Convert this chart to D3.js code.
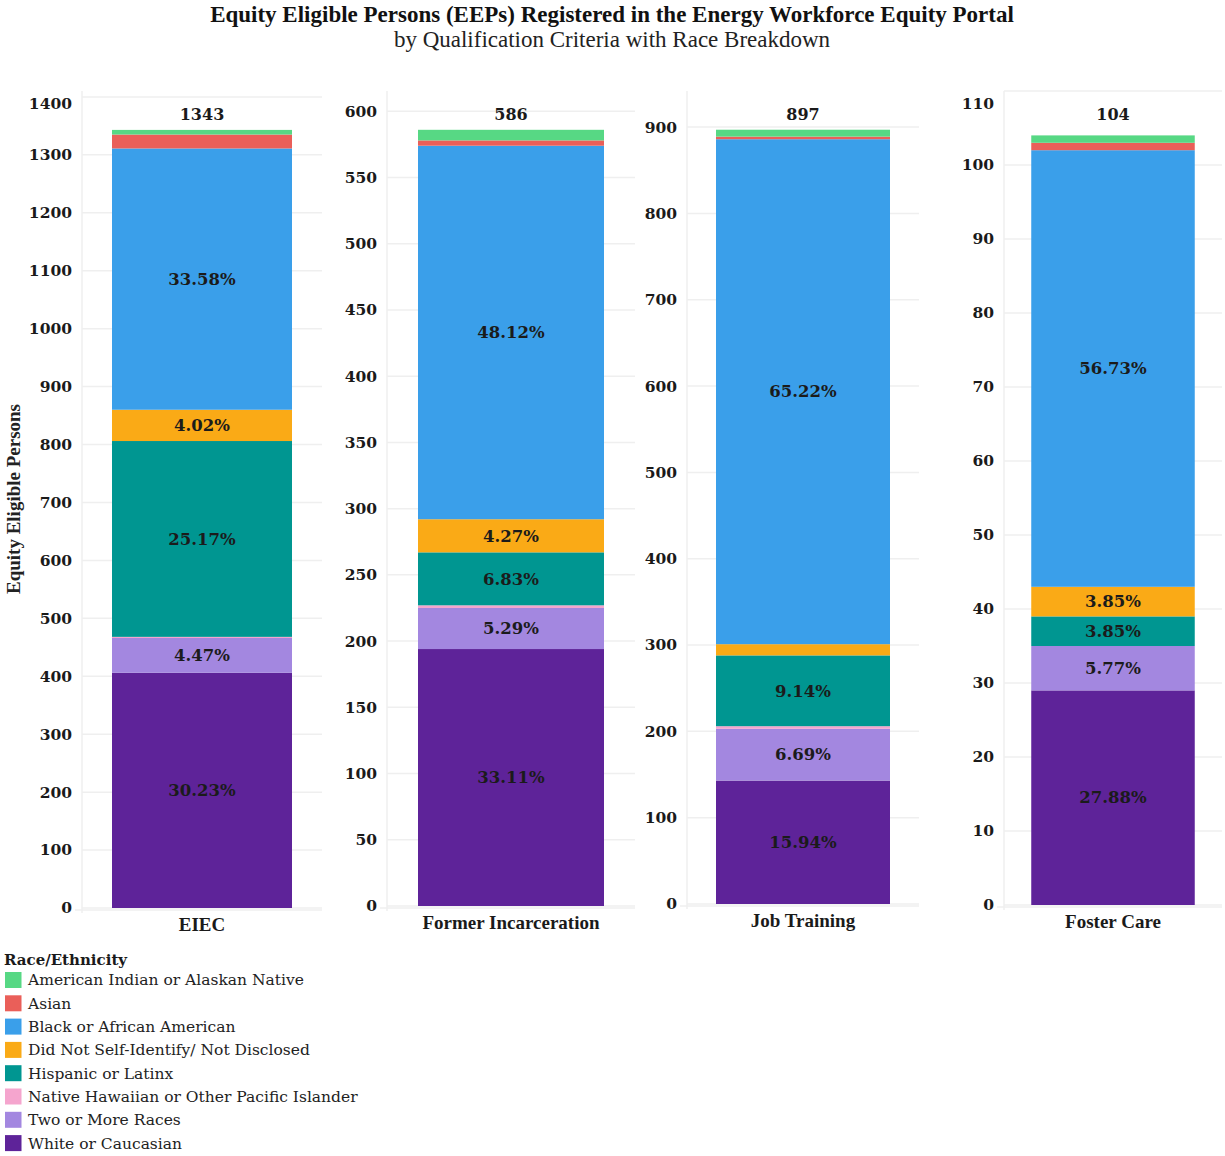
<!DOCTYPE html>
<html>
<head>
<meta charset="utf-8">
<script src="https://cdn.jsdelivr.net/npm/d3@7"></script>
<style>
  html, body { margin: 0; padding: 0; background: #fff; }
  svg { display: block; }
</style>
</head>
<body>
<svg id="chart" width="1225" height="1156"></svg>
<script>
// ---------- data ----------
const categories = ["EIEC", "Former Incarceration", "Job Training", "Foster Care"];
const races = [
  "American Indian or Alaskan Native",
  "Asian",
  "Black or African American",
  "Did Not Self-Identify/ Not Disclosed",
  "Hispanic or Latinx",
  "Native Hawaiian or Other Pacific Islander",
  "Two or More Races",
  "White or Caucasian"
];
const americanIndian = [8, 8, 8, 1];
const asian          = [24, 4, 3, 1];
const black          = [451, 282, 585, 59];
const notDisclosed   = [54, 25, 13, 4];
const hispanic       = [338, 40, 82, 4];
const nativeHawaiian = [2, 2, 3, 0];
const twoOrMore      = [60, 31, 60, 6];
const white          = [406, 194, 143, 29];
const tickSteps      = [100, 50, 100, 10];

const colors = ["#57D884", "#EA5F59", "#3A9FEA", "#FAAA16", "#009691", "#F5A5CE", "#A387E0", "#5E2399"];
const seriesByRace = [americanIndian, asian, black, notDisclosed, hispanic, nativeHawaiian, twoOrMore, white];

// ---------- layout ----------
const panelLeft   = [82, 387, 687, 1004];
const panelRight  = [322, 635, 919, 1222];
const panelBottom = [908, 906, 904, 905];
const panelTop = 91;
const numFont = "'DejaVu Serif', serif";
const capFont = "'Liberation Serif', 'Times New Roman', serif";

const svg = d3.select("#chart");

// titles
svg.append("text").attr("x", 612).attr("y", 22).attr("text-anchor", "middle")
  .style("font-family", capFont).style("font-weight", "bold").style("font-size", "23px")
  .attr("fill", "#111")
  .text("Equity Eligible Persons (EEPs) Registered in the Energy Workforce Equity Portal");
svg.append("text").attr("x", 612).attr("y", 47).attr("text-anchor", "middle")
  .style("font-family", capFont).style("font-size", "23px").attr("fill", "#222")
  .text("by Qualification Criteria with Race Breakdown");

// y axis title
svg.append("text")
  .attr("transform", "translate(20,499) rotate(-90)")
  .attr("text-anchor", "middle")
  .style("font-family", capFont).style("font-weight", "bold").style("font-size", "19px")
  .attr("fill", "#222")
  .text("Equity Eligible Persons");

// stacking order bottom -> top is reverse of legend order
const stackOrder = races.map((r, i) => i).reverse();

categories.forEach((cat, ci) => {
  const total = d3.sum(seriesByRace, s => s[ci]);
  const yMax = ci === 3 ? 110 : total * 1.05;
  const y = d3.scaleLinear().domain([0, yMax]).range([panelBottom[ci], panelTop]);
  const x = d3.scaleBand().domain([cat]).range([panelLeft[ci], panelRight[ci]])
    .paddingInner(0.25).paddingOuter(0.125);

  const g = svg.append("g");

  // gridlines
  const ticks = d3.range(0, yMax + 0.001, tickSteps[ci]);
  g.selectAll("line.grid").data(ticks).join("line")
    .attr("x1", panelLeft[ci]).attr("x2", panelRight[ci])
    .attr("y1", d => y(d)).attr("y2", d => y(d))
    .attr("stroke", "#efefef").attr("stroke-width", 1.5);
  // vertical left line
  g.append("line").attr("x1", panelLeft[ci]).attr("x2", panelLeft[ci])
    .attr("y1", panelTop).attr("y2", panelBottom[ci] + 5)
    .attr("stroke", "#efefef").attr("stroke-width", 1.5);
  // baseline
  g.append("line").attr("x1", panelLeft[ci] - 7).attr("x2", panelRight[ci])
    .attr("y1", panelBottom[ci] + 2).attr("y2", panelBottom[ci] + 2)
    .attr("stroke", "#efefef").attr("stroke-width", 1.5);

  // tick labels
  g.selectAll("text.tick").data(ticks).join("text")
    .attr("x", panelLeft[ci] - 10)
    .attr("y", d => Math.max(y(d), panelTop + 13))
    .attr("dy", "0.35em")
    .attr("text-anchor", "end")
    .style("font-family", numFont).style("font-weight", "bold").style("font-size", "15.5px")
    .attr("fill", "#1a1a1a")
    .text(d => d);

  // stacked segments
  let cum = 0;
  stackOrder.forEach(ri => {
    const v = seriesByRace[ri][ci];
    const y0 = cum, y1 = cum + v;
    cum = y1;
    if (v <= 0) return;
    g.append("rect")
      .attr("x", x(cat)).attr("width", x.bandwidth())
      .attr("y", y(y1)).attr("height", y(y0) - y(y1))
      .attr("fill", colors[ri]);
    const pct = v / total * 100;
    if (pct >= 3) {
      g.append("text")
        .attr("x", x(cat) + x.bandwidth() / 2)
        .attr("y", (y(y0) + y(y1)) / 2).attr("dy", "0.35em")
        .attr("text-anchor", "middle")
        .style("font-family", numFont).style("font-weight", "bold").style("font-size", "16.5px")
        .attr("fill", "#1b1b1b")
        .text(pct.toFixed(2) + "%");
    }
  });

  // total label
  g.append("text")
    .attr("x", x(cat) + x.bandwidth() / 2).attr("y", 120)
    .attr("text-anchor", "middle")
    .style("font-family", numFont).style("font-weight", "bold").style("font-size", "16px")
    .attr("fill", "#1a1a1a")
    .text(total);

  // category label
  g.append("text")
    .attr("x", x(cat) + x.bandwidth() / 2).attr("y", panelBottom[ci] + 23)
    .attr("text-anchor", "middle")
    .style("font-family", capFont).style("font-weight", "bold").style("font-size", "19px")
    .attr("fill", "#1a1a1a")
    .text(cat);
});

// legend
const lg = svg.append("g");
lg.append("text").attr("x", 4).attr("y", 965)
  .style("font-family", numFont).style("font-weight", "bold").style("font-size", "15px")
  .attr("fill", "#1a1a1a").text("Race/Ethnicity");
const items = lg.selectAll("g.item").data(races).join("g")
  .attr("transform", (d, i) => `translate(5, ${972 + i * 23.3})`);
items.append("rect").attr("width", 16.5).attr("height", 16).attr("fill", (d, i) => colors[i]);
items.append("text").attr("x", 23).attr("y", 8).attr("dy", "0.35em")
  .style("font-family", numFont).style("font-size", "15.5px").attr("fill", "#222")
  .text(d => d);
</script>
</body>
</html>
